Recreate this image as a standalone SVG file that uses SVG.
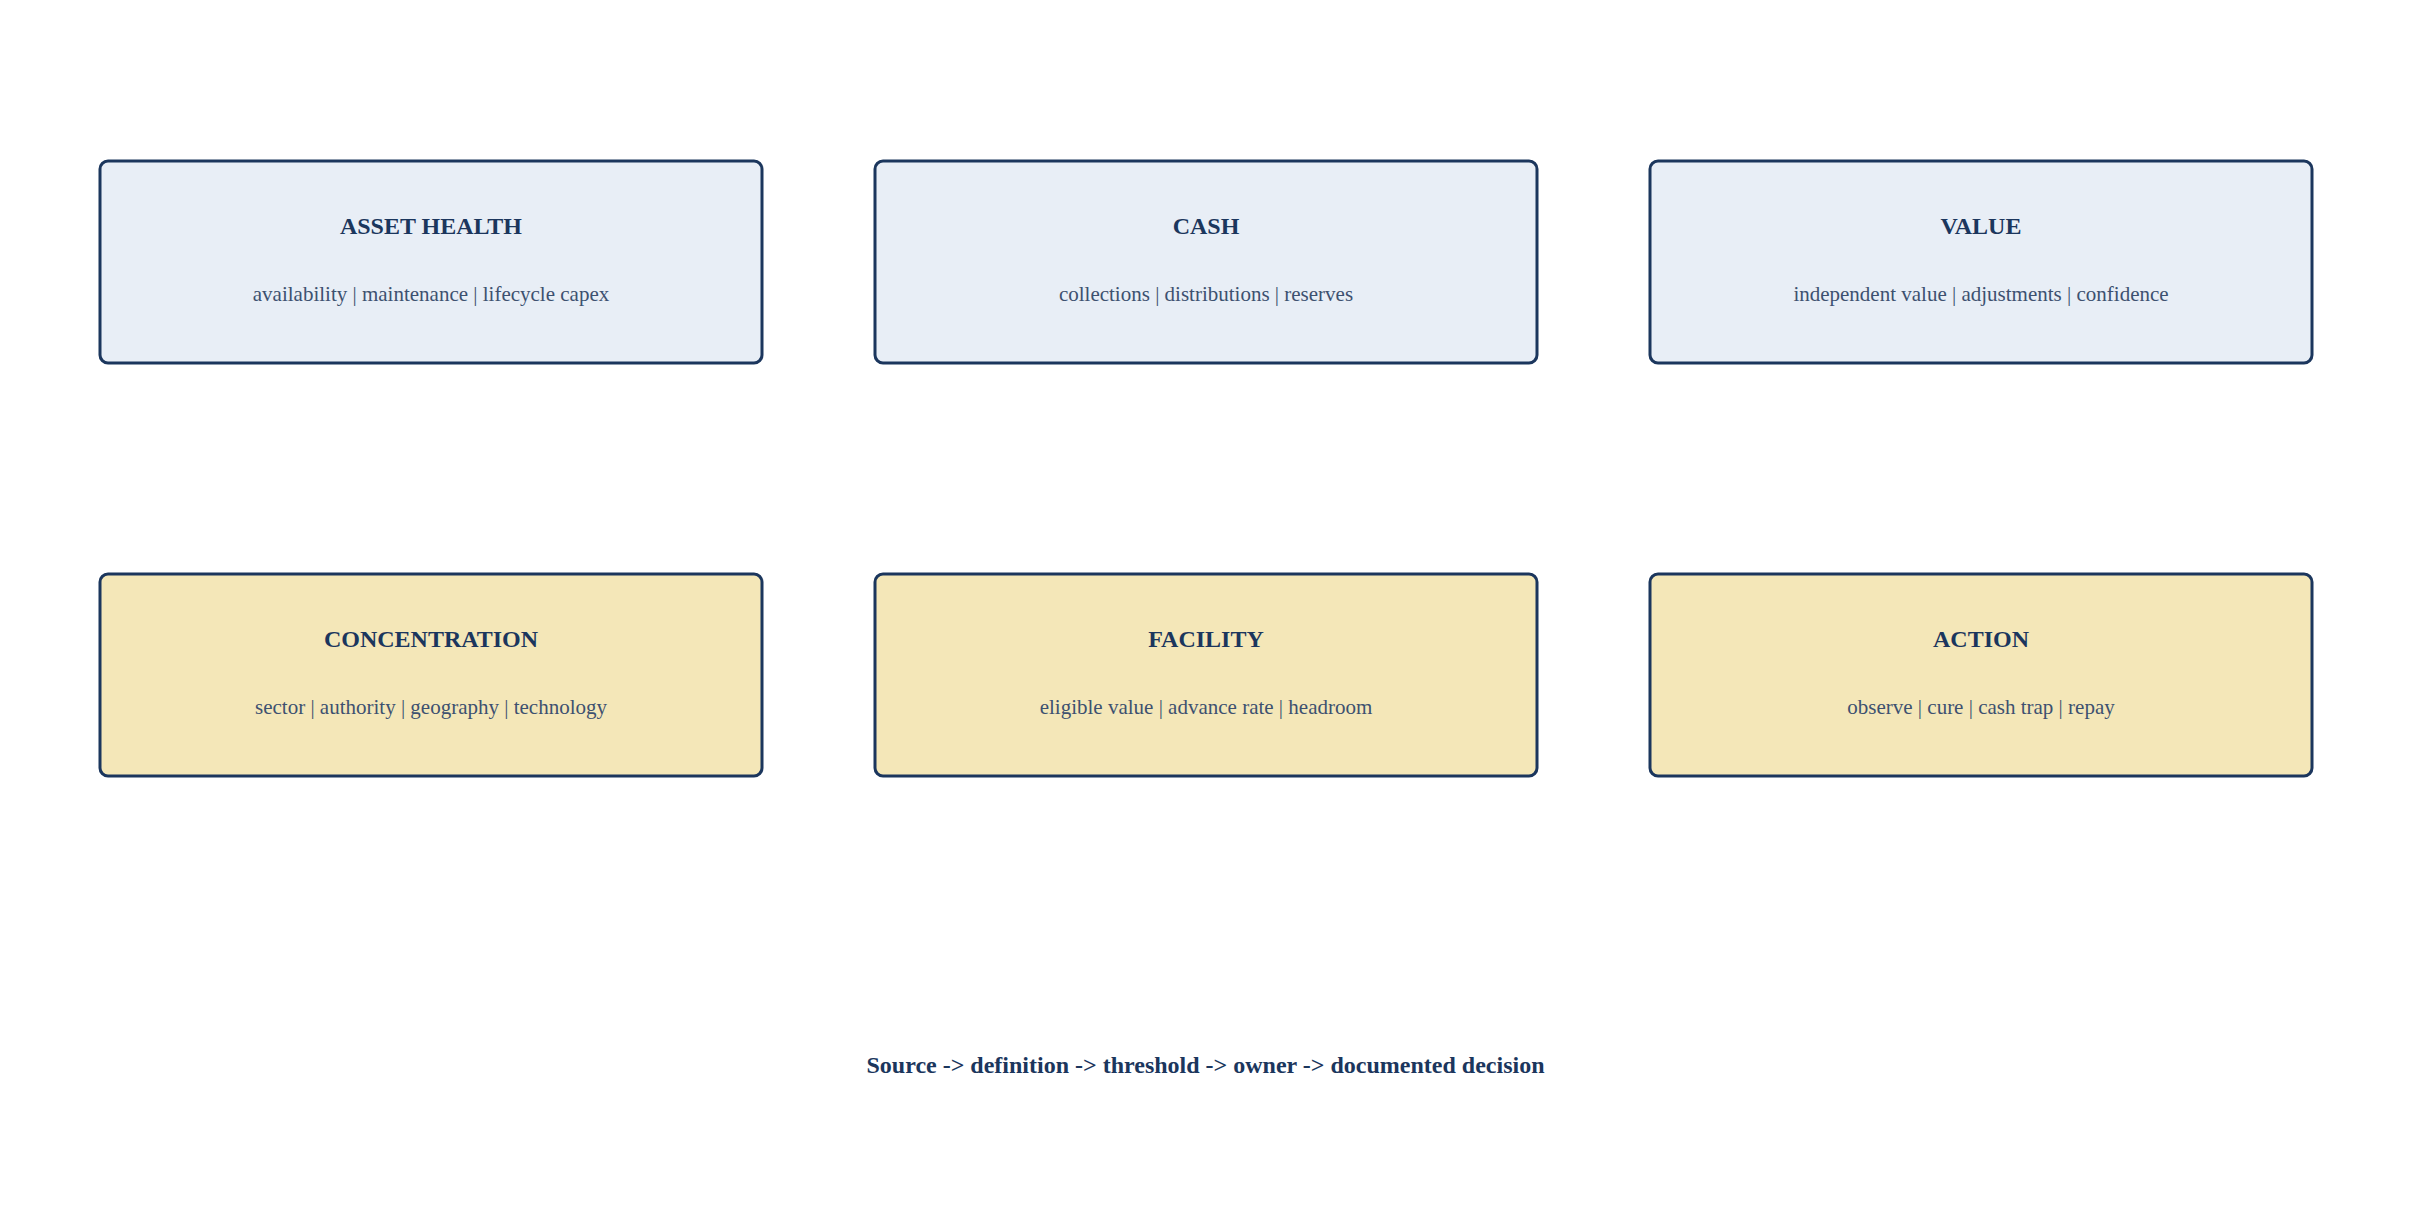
<svg xmlns="http://www.w3.org/2000/svg" width="2411" height="1223" viewBox="0 0 2411 1223">
<style>
.box{stroke:#1b365d;stroke-width:3}
.top{fill:#e8eef6}
.bot{fill:#f4e7b8}
.title{font-family:"Liberation Serif","Times New Roman",serif;font-weight:bold;font-size:24px;fill:#1b365d;text-anchor:middle}
.sub{font-family:"Liberation Serif","Times New Roman",serif;font-size:21px;fill:#3d5170;text-anchor:middle}
.foot{font-family:"Liberation Serif","Times New Roman",serif;font-weight:bold;font-size:24px;fill:#1b365d;text-anchor:middle}
</style>
<rect width="2411" height="1223" fill="#ffffff"/>
<g id="connectors"></g>
<g id="asset-health">
<rect class="box top" x="100" y="161" width="662" height="202" rx="8"/>
<text class="title" x="431" y="234">ASSET HEALTH</text>
<text class="sub" x="431" y="301">availability | maintenance | lifecycle capex</text>
</g>
<g id="cash">
<rect class="box top" x="875" y="161" width="662" height="202" rx="8"/>
<text class="title" x="1206" y="234">CASH</text>
<text class="sub" x="1206" y="301">collections | distributions | reserves</text>
</g>
<g id="value">
<rect class="box top" x="1650" y="161" width="662" height="202" rx="8"/>
<text class="title" x="1981" y="234">VALUE</text>
<text class="sub" x="1981" y="301">independent value | adjustments | confidence</text>
</g>
<g id="concentration">
<rect class="box bot" x="100" y="574" width="662" height="202" rx="8"/>
<text class="title" x="431" y="647">CONCENTRATION</text>
<text class="sub" x="431" y="714">sector | authority | geography | technology</text>
</g>
<g id="facility">
<rect class="box bot" x="875" y="574" width="662" height="202" rx="8"/>
<text class="title" x="1206" y="647">FACILITY</text>
<text class="sub" x="1206" y="714">eligible value | advance rate | headroom</text>
</g>
<g id="action">
<rect class="box bot" x="1650" y="574" width="662" height="202" rx="8"/>
<text class="title" x="1981" y="647">ACTION</text>
<text class="sub" x="1981" y="714">observe | cure | cash trap | repay</text>
</g>
<g id="footer">
<text class="foot" x="1205.5" y="1073">Source -&gt; definition -&gt; threshold -&gt; owner -&gt; documented decision</text>
</g>
</svg>
